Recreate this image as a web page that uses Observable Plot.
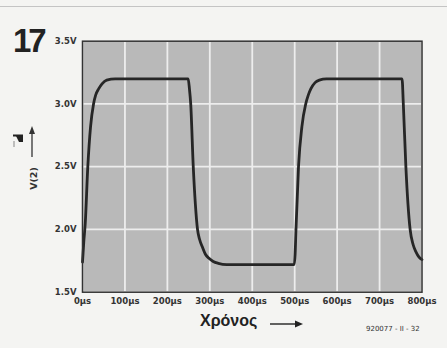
<!DOCTYPE html>
<html><head><meta charset="utf-8">
<script src="https://cdn.jsdelivr.net/npm/d3@7"></script>
<script src="https://cdn.jsdelivr.net/npm/@observablehq/plot@0.6"></script>
<style>
body{margin:0;background:#f4f4f2;}
#wrap{position:relative;width:447px;height:348px;overflow:hidden;background:#f4f4f2;}
#wrap svg{position:absolute;left:0;top:0;}
</style></head><body>
<div id="wrap"></div>
<script>
// trace (time in µs, voltage in V)
const timeUs = [0, 3, 6.5, 12.5, 19, 26, 31, 38, 46, 57, 77,
  249, 252, 255, 261, 266, 271, 276, 282.5, 290, 298, 308, 320, 340,
  499, 501, 503, 509, 517, 526, 532, 538, 548, 558, 575,
  753, 756, 762, 767, 772, 779, 786, 793, 800];
const volts = [1.74, 1.9, 2.05, 2.5, 2.82, 3.0, 3.07, 3.12, 3.16, 3.19, 3.2,
  3.2, 3.12, 3.0, 2.5, 2.2, 2.0, 1.92, 1.86, 1.8, 1.77, 1.745, 1.73, 1.72,
  1.72, 1.8, 2.0, 2.5, 2.82, 3.0, 3.07, 3.12, 3.17, 3.19, 3.2,
  3.2, 3.0, 2.5, 2.2, 2.0, 1.88, 1.82, 1.78, 1.76];
const xTicks = [0, 100, 200, 300, 400, 500, 600, 700, 800];
const xTickLabels = ["0µs", "100µs", "200µs", "300µs", "400µs", "500µs", "600µs", "700µs", "800µs"];
const yTicks = [1.5, 2.0, 2.5, 3.0, 3.5];
const yTickLabels = ["1.5V", "2.0V", "2.5V", "3.0V", "3.5V"];
const figNumber = "17";
const yLabel = "V(2)";
const xLabel = "Χρόνος";
const code = "920077 - II - 32";

const data = timeUs.map((t, i) => ({t, v: volts[i]}));

const chart = Plot.plot({
  width: 447, height: 348,
  marginLeft: 82, marginRight: 25.5, marginTop: 40.7, marginBottom: 56.3,
  style: {background: "transparent", fontFamily: "DejaVu Sans", fontWeight: "bold", fontSize: "8.5px", color: "#333"},
  x: {domain: [0, 800], ticks: xTicks, tickFormat: d => xTickLabels[xTicks.indexOf(d)], tickSize: 0, tickPadding: 6, label: null},
  y: {domain: [1.5, 3.5], ticks: yTicks, tickFormat: d => yTickLabels[yTicks.indexOf(d)], tickSize: 0, tickPadding: 6, label: null},
  marks: [
    Plot.frame({fill: "#b9b9b9"}),
    Plot.gridX(xTicks, {stroke: "#ededed", strokeOpacity: 1, strokeWidth: 1.8}),
    Plot.gridY(yTicks, {stroke: "#ededed", strokeOpacity: 1, strokeWidth: 1.8}),
    Plot.line(data, {x: "t", y: "v", curve: "monotone-x", stroke: "#262626", strokeWidth: 2.8}),
    Plot.frame({stroke: "#333", strokeWidth: 1.5})
  ]
});
const wrap = document.getElementById("wrap");
wrap.appendChild(chart);

const ns = "http://www.w3.org/2000/svg";
const ov = document.createElementNS(ns, "svg");
ov.setAttribute("width", 447); ov.setAttribute("height", 348);
ov.innerHTML = `
  <line x1="0" y1="6.5" x2="447" y2="6.5" stroke="#c4c4c4" stroke-width="1"/>
  <text x="13" y="52" font-family="Liberation Sans" font-weight="bold" font-size="33" letter-spacing="-3" fill="#222">${figNumber}</text>
  <text transform="translate(37,178.5) rotate(-90)" text-anchor="middle" font-family="DejaVu Sans" font-weight="bold" font-size="9.5" fill="#333">${yLabel}</text>
  <line x1="32" y1="157" x2="32" y2="132" stroke="#333" stroke-width="1.3"/>
  <polygon points="32,126 29,134 35,134" fill="#333"/>
  <rect x="13" y="134.5" width="10" height="2" fill="#222"/>
  <polygon points="16,136 23,136 23,142 19,142" fill="#222"/>
  <line x1="14" y1="141" x2="14" y2="147" stroke="#888" stroke-width="1"/>
  <text x="200" y="326" font-family="Liberation Sans" font-weight="bold" font-size="16" fill="#222">${xLabel}</text>
  <line x1="270" y1="324" x2="298" y2="324" stroke="#222" stroke-width="1.4"/>
  <polygon points="303,324 295,320.5 295,327.5" fill="#222"/>
  <text x="366" y="330.5" font-family="DejaVu Sans" font-size="7" fill="#333">${code}</text>
`;
wrap.appendChild(ov);
</script>
</body></html>
